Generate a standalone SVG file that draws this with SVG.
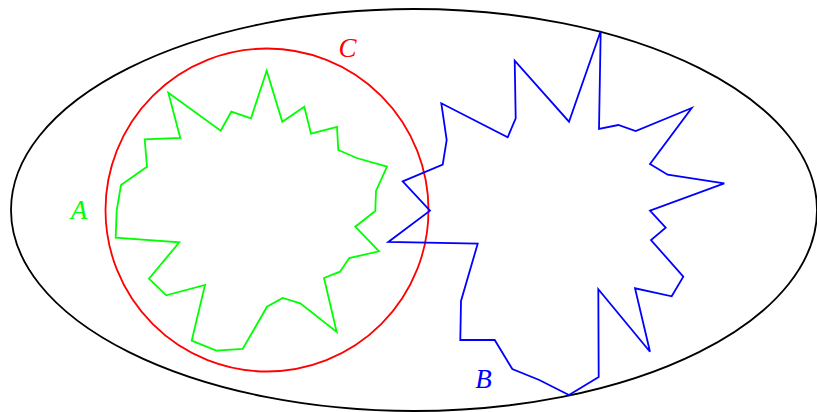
<svg xmlns="http://www.w3.org/2000/svg" width="817" height="412" viewBox="0 0 817 412">
<style>
.lbl{font-family:"Liberation Serif","DejaVu Serif",serif;font-style:italic;font-size:27px;text-anchor:middle}
.shape{fill:none;stroke-width:1.8;stroke-linejoin:miter}
</style>
<rect width="817" height="412" fill="#fff"/>
<g id="universe"><ellipse cx="414" cy="210" rx="403" ry="201" class="shape" stroke="#000" stroke-width="1.6"/></g>
<g id="C">
<circle cx="267" cy="210" r="161.5" class="shape" stroke="#ff0000"/>
<text x="347.5" y="56.5" class="lbl" fill="#ff0000">C</text>
</g>
<g id="A">
<polygon class="shape" stroke="#00ff00" points="168.3,92.7 220.7,130.7 231.3,111.7 251,118.3 266.7,70.7 282.3,121.7 304.3,106.7 311,133.7 337,127 338.3,150 356.7,158 387,166.7 376,191 375.3,211 355.3,226.7 379,251.3 349.3,258 340,271.7 324,278 336.7,332 300.3,303.3 282.7,298 267,306.7 242.7,349 216.3,350.7 191.7,340.7 205,285 166.3,295.3 149,278.7 179.3,242.3 115.7,237.7 116.7,210.3 121,185 147,166.7 144.7,139.3 180.3,138"/>
<text x="79" y="219" class="lbl" fill="#00ff00">A</text>
</g>
<g id="B">
<polygon class="shape" stroke="#0000ff" points="600.7,31 569,121.7 514.7,60.7 515.7,118.3 507.7,137.3 441.3,103.3 446.7,140 442.7,164.7 402.7,181.3 430,210.7 388.3,242 477.7,243.7 461,301 460.3,340 494.7,340 512.3,369 539.3,380 569,395 598.7,377 598.3,289.3 650,351.7 635,288.3 671.7,296.3 683.3,276.7 651,240 665.7,227.7 650,210.7 724.3,183.3 667.7,174.7 650,164 691.7,108 635.7,131 618.3,125 599,129"/>
<text x="483.5" y="388" class="lbl" fill="#0000ff">B</text>
</g>
<g id="connectors"/>
</svg>
